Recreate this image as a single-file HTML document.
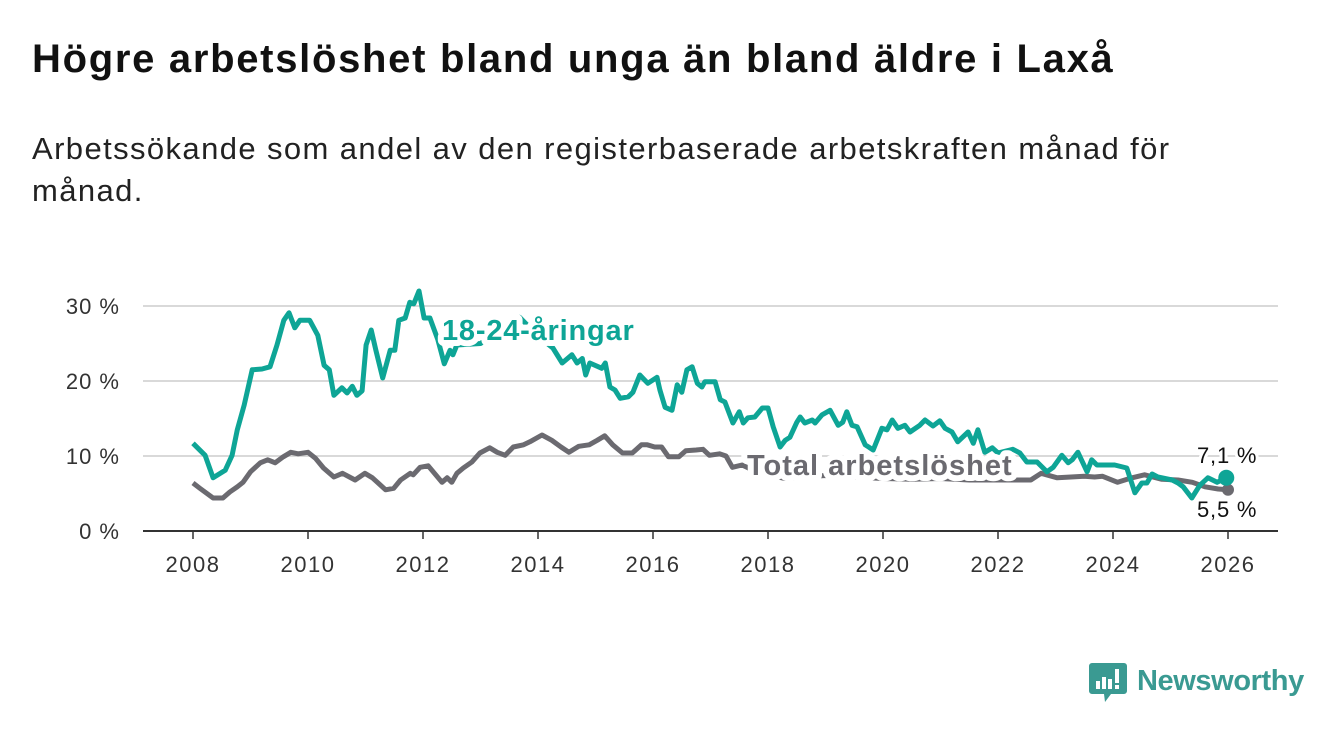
<!DOCTYPE html>
<html><head><meta charset="utf-8">
<style>
body{margin:0;background:#fff;font-family:"Liberation Sans","DejaVu Sans",sans-serif;}
#wrap{position:relative;width:1340px;height:734px;overflow:hidden;background:#fff;}
h1{position:absolute;left:32px;top:37px;margin:0;font-size:40px;font-weight:bold;color:#111;letter-spacing:1.7px;}
.sub{position:absolute;left:32px;top:128px;margin:0;font-size:31px;line-height:42px;color:#222;width:1250px;letter-spacing:1.4px;}
svg{position:absolute;left:0;top:0;}
</style></head><body>
<div id="wrap">
<h1>Högre arbetslöshet bland unga än bland äldre i Laxå</h1>
<p class="sub">Arbetssökande som andel av den registerbaserade arbetskraften månad för<br>månad.</p>
<svg id="chart" width="1340" height="734"></svg>
</div>
<script>
const youthDates=[
2008.00,2008.21,2008.35,2008.56,2008.68,2008.77,2008.89,2009.03,2009.20,2009.34,
2009.46,2009.58,2009.67,2009.77,2009.86,2010.03,2010.17,2010.28,2010.37,2010.45,
2010.59,2010.68,2010.77,2010.85,2010.94,2011.01,2011.10,2011.18,2011.30,2011.43,
2011.51,2011.58,2011.69,2011.77,2011.84,2011.93,2012.02,2012.12,2012.26,2012.37,
2012.47,2012.52,2012.59,2013.00,2013.40,2013.68,2014.00,2014.26,2014.42,2014.59,
2014.68,2014.77,2014.83,2014.90,2015.11,2015.17,2015.25,2015.34,2015.43,2015.57,
2015.65,2015.77,2015.91,2016.07,2016.12,2016.21,2016.33,2016.42,2016.50,2016.59,
2016.68,2016.77,2016.85,2016.90,2017.08,2017.17,2017.25,2017.39,2017.50,2017.57,
2017.65,2017.77,2017.90,2018.00,2018.09,2018.21,2018.30,2018.38,2018.50,2018.56,
2018.64,2018.77,2018.82,2018.94,2019.08,2019.22,2019.30,2019.37,2019.46,2019.55,
2019.69,2019.83,2019.98,2020.07,2020.16,2020.26,2020.38,2020.47,2020.64,2020.73,
2020.87,2020.99,2021.08,2021.20,2021.30,2021.48,2021.57,2021.65,2021.77,2021.90,
2022.00,2022.26,2022.38,2022.50,2022.68,2022.85,2022.96,2023.11,2023.22,2023.29,
2023.39,2023.55,2023.63,2023.72,2024.03,2024.24,2024.38,2024.50,2024.59,2024.68,
2024.78,2025.03,2025.13,2025.22,2025.37,2025.51,2025.65,2025.81,2025.97];
const youthValues=[
11.7,10.1,7.1,8.1,10.1,13.5,16.8,21.5,21.6,21.9,
24.8,28.1,29.1,27.1,28.1,28.1,26.1,22.1,21.5,18.1,
19.1,18.4,19.3,18.1,18.7,24.8,26.8,24.1,20.4,24.1,
24.1,28.1,28.4,30.5,30.3,32.0,28.4,28.4,25.5,22.3,
24.1,23.5,24.8,25.0,27.0,28.5,26.0,24.4,22.4,23.5,
22.4,23.0,20.8,22.4,21.7,22.4,19.2,18.8,17.7,17.9,
18.5,20.8,19.7,20.5,18.8,16.5,16.1,19.5,18.5,21.5,
21.9,19.7,19.2,19.9,19.9,17.5,17.2,14.4,15.9,14.4,
15.1,15.2,16.4,16.4,13.9,11.2,12.1,12.5,14.5,15.2,
14.4,14.8,14.4,15.5,16.1,14.1,14.5,15.9,14.1,13.9,
11.5,10.8,13.7,13.5,14.8,13.7,14.1,13.2,14.1,14.8,
14.0,14.7,13.7,13.2,11.9,13.2,11.7,13.5,10.5,11.1,
10.4,10.9,10.4,9.2,9.2,7.9,8.5,10.1,9.1,9.5,
10.5,7.9,9.5,8.8,8.8,8.4,5.1,6.4,6.4,7.6,
7.2,6.8,6.4,5.9,4.4,6.1,7.1,6.5,7.1];
const totalDates=[2008.0,2008.12,2008.35,2008.52,2008.64,2008.77,2008.87,2009.0,2009.17,2009.3,2009.43,2009.57,2009.7,2009.83,2010.0,2010.13,2010.27,2010.45,2010.6,2010.82,2010.99,2011.12,2011.35,2011.49,2011.61,2011.78,2011.83,2011.95,2012.09,2012.33,2012.42,2012.5,2012.59,2012.7,2012.85,2012.99,2013.16,2013.29,2013.43,2013.57,2013.75,2013.86,2014.07,2014.24,2014.4,2014.54,2014.71,2014.89,2015.03,2015.16,2015.3,2015.47,2015.64,2015.8,2015.9,2016.03,2016.15,2016.27,2016.45,2016.57,2016.75,2016.87,2016.98,2017.16,2017.27,2017.38,2017.55,2017.66,2017.72,2018.0,2018.3,2018.6,2019.0,2019.5,2020.0,2020.5,2021.0,2021.5,2022.0,2022.33,2022.57,2022.75,2023.03,2023.27,2023.5,2023.68,2023.82,2024.08,2024.33,2024.55,2024.85,2025.13,2025.38,2025.6,2025.83,2026.0];
const totalValues=[6.4,5.7,4.4,4.4,5.2,5.9,6.5,7.9,9.1,9.5,9.1,9.9,10.5,10.3,10.5,9.7,8.4,7.2,7.7,6.8,7.7,7.1,5.5,5.7,6.8,7.7,7.5,8.5,8.7,6.5,7.1,6.5,7.7,8.4,9.2,10.4,11.1,10.5,10.1,11.2,11.5,11.9,12.8,12.1,11.2,10.5,11.3,11.5,12.1,12.7,11.5,10.4,10.4,11.5,11.5,11.2,11.2,9.9,9.9,10.7,10.8,10.9,10.1,10.3,10.0,8.5,8.8,8.4,8.0,7.5,7.0,7.2,7.4,7.2,7.0,6.9,7.0,6.8,6.8,6.8,6.8,7.7,7.1,7.2,7.3,7.2,7.3,6.5,7.1,7.5,6.9,6.8,6.5,5.9,5.6,5.5];
const yTicks=[0,10,20,30];
const yTickLabels=["0 %","10 %","20 %","30 %"];
const xTicks=[2008,2010,2012,2014,2016,2018,2020,2022,2024,2026];

const NS="http://www.w3.org/2000/svg";
const svg=document.getElementById('chart');
const X=t=>193+(t-2008)*57.5;
const Y=v=>531-v*7.5;
function mk(tag,attrs,parent){const e=document.createElementNS(NS,tag);for(const k in attrs)e.setAttribute(k,attrs[k]);(parent||svg).appendChild(e);return e;}

yTicks.forEach((v,i)=>{
  if(v>0){const g=mk('line',{x1:143,x2:1278,y1:Y(v),y2:Y(v),stroke:'#d9d9d9','stroke-width':2});
  
  }
  const t=mk('text',{x:120,y:Y(v)+8,'text-anchor':'end','font-size':22,'letter-spacing':1,fill:'#333'});
  t.textContent=yTickLabels[i];
  
  
});
const ax=mk('line',{x1:143,x2:1278,y1:531,y2:531,stroke:'#333','stroke-width':2});


xTicks.forEach(yr=>{
  const tk=mk('line',{x1:X(yr),x2:X(yr),y1:531,y2:539,stroke:'#333','stroke-width':1.5});
  
  
  const t=mk('text',{x:X(yr),y:572,'text-anchor':'middle','font-size':22,'letter-spacing':1.5,fill:'#333'});
  t.textContent=yr;
  
  
});
function path(d,v){const n=Math.min(d.length,v.length);let s='';for(let i=0;i<n;i++)s+=(i?'L':'M')+X(d[i]).toFixed(1)+','+Y(v[i]).toFixed(1);return s;}
const tl=mk('path',{d:path(totalDates,totalValues),fill:'none',stroke:'#6b6a70','stroke-width':5,'stroke-linejoin':'round'});


const yl=mk('path',{d:path(youthDates,youthValues),fill:'none',stroke:'#0ea596','stroke-width':5,'stroke-linejoin':'round'});


const lt=Math.min(totalDates.length,totalValues.length)-1, ly=Math.min(youthDates.length,youthValues.length)-1;
const d1=mk('circle',{cx:X(totalDates[lt]),cy:Y(totalValues[lt]),r:6,fill:'#6b6a70'});


const d2=mk('circle',{cx:X(youthDates[ly]),cy:Y(youthValues[ly]),r:8,fill:'#0ea596'});



function lab(txt,x,y,fill,size,weight,ls,sw,name){
  const t=mk('text',{x:x,y:y,'font-size':size,'font-weight':weight,'letter-spacing':ls,fill:fill,stroke:'#fff','stroke-width':sw,'paint-order':'stroke','stroke-linejoin':'round'});
  t.textContent=txt;
  
  
}
lab('18-24-åringar',442,340,'#0ea596',29,'bold',0.8,12,'youth-series-label');
lab('Total arbetslöshet',747,475,'#6b6a70',29,'bold',1,12,'total-series-label');
lab('7,1 %',1197,463,'#111',22,'normal',0.8,6,'youth-end-value');
lab('5,5 %',1197,517,'#111',22,'normal',0.8,6,'total-end-value');

const g=mk('g',{});


mk('path',{d:'M1092,663 h32 a3,3 0 0 1 3,3 v25 a3,3 0 0 1 -3,3 h-13 l-6,8 l-1,-8 h-12 a3,3 0 0 1 -3,-3 v-25 a3,3 0 0 1 3,-3z',fill:'#3a9a92'},g);
mk('rect',{x:1096,y:681,width:4,height:8,fill:'#fff'},g);
mk('rect',{x:1102,y:677,width:4,height:12,fill:'#fff'},g);
mk('rect',{x:1108,y:679,width:4,height:10,fill:'#fff'},g);
mk('rect',{x:1115,y:669,width:4,height:14,fill:'#fff'},g);
mk('rect',{x:1115,y:685,width:4,height:4,fill:'#fff'},g);
const nt=mk('text',{x:1137,y:690,'font-size':29,fill:'#3a9a92','font-weight':'bold','letter-spacing':-0.4},g);
nt.textContent='Newsworthy';
</script>
</body></html>
